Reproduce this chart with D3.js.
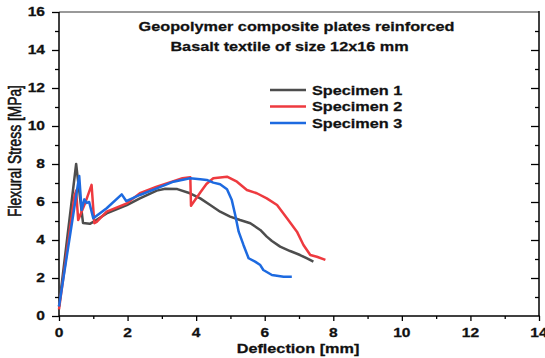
<!DOCTYPE html>
<html><head><meta charset="utf-8">
<script src="https://cdn.jsdelivr.net/npm/d3@7"></script>
<style>
html,body{margin:0;padding:0;background:#fff;}
svg{display:block;font-family:"Liberation Sans",Arial,sans-serif;}
</style></head>
<body><svg id="c" width="545" height="358"></svg>
<script>
// ---- data ----
const titleLines = ["Geopolymer composite plates reinforced", "Basalt textile of size 12x16 mm"];
const seriesNames = ["Specimen 1", "Specimen 2", "Specimen 3"];
const seriesColors = ["#4d4d4d", "#ee3a3f", "#1d6ae0"];
const xTicks = [0, 2, 4, 6, 8, 10, 12, 14];
const yTicks = [0, 2, 4, 6, 8, 10, 12, 14, 16];
const xLabel = "Deflection [mm]";
const yLabel = "Flexural Stress [MPa]";

const s1x = [0, 0.5, 0.55, 0.7, 0.9, 1.0, 1.39, 1.98, 2.36, 2.85, 3.1, 3.45, 3.82, 4.12, 4.41, 4.7, 4.99, 5.28, 5.58, 5.87, 6.06, 6.21, 6.45, 6.74, 7.03, 7.22, 7.42];
const s1y = [0.5, 8.0, 7.2, 4.9, 4.85, 4.95, 5.4, 5.84, 6.19, 6.6, 6.7, 6.68, 6.46, 6.19, 5.84, 5.49, 5.23, 5.05, 4.88, 4.53, 4.18, 3.95, 3.65, 3.42, 3.21, 3.04, 2.86];

const s2x = [0, 0.45, 0.5, 0.56, 0.76, 0.95, 1.03, 1.1, 1.39, 1.98, 2.36, 2.85, 3.34, 3.6, 3.83, 3.85, 4.12, 4.3, 4.5, 4.9, 5.19, 5.48, 5.77, 6.06, 6.36, 6.65, 6.94, 7.13, 7.33, 7.52, 7.77];
const s2y = [0.35, 6.3, 6.6, 5.05, 5.93, 6.9, 4.88, 4.95, 5.49, 5.93, 6.46, 6.81, 7.1, 7.25, 7.3, 5.8, 6.5, 6.95, 7.25, 7.33, 7.07, 6.63, 6.46, 6.19, 5.84, 5.14, 4.44, 3.74, 3.21, 3.12, 2.95];

const s3x = [0, 0.59, 0.66, 0.74, 0.81, 0.88, 1.0, 1.39, 1.83, 1.96, 2.36, 2.85, 3.34, 3.82, 4.12, 4.31, 4.5, 4.7, 4.9, 5.04, 5.14, 5.24, 5.38, 5.53, 5.72, 5.87, 5.96, 6.21, 6.55, 6.79];
const s3y = [0.5, 7.37, 5.58, 6.14, 5.95, 6.0, 5.14, 5.67, 6.4, 6.05, 6.37, 6.72, 7.07, 7.25, 7.2, 7.16, 7.02, 6.93, 6.67, 6.1, 5.32, 4.44, 3.74, 3.04, 2.86, 2.68, 2.42, 2.16, 2.07, 2.07];

const seriesX = [s1x, s2x, s3x];
const seriesY = [s1y, s2y, s3y];

// ---- layout ----
const L = 59, R = 539, T = 12, B = 316;
const SX = 1.3; // horizontal stretch of the original picture's text
const svg = d3.select("#c");
const x = d3.scaleLinear().domain([0, 14]).range([L, R]);
const y = d3.scaleLinear().domain([0, 16]).range([B, T]);

// frame top (gray)
svg.append("line").attr("x1", L).attr("x2", R).attr("y1", T).attr("y2", T)
  .attr("stroke", "#777").attr("stroke-width", 1.5);

function ticks(g, axis) {
  g.call(axis);
  g.selectAll(".domain").remove();
  g.selectAll(".tick line").attr("stroke-width", 1.3);
}
const yMinor = d3.range(1, 16, 2);
const xMinor = d3.range(1, 14, 2);

// left axis (outward)
ticks(svg.append("g").attr("transform", `translate(${L},0)`), d3.axisLeft(y).tickValues(yMinor).tickSize(4).tickFormat(""));
ticks(svg.append("g").attr("transform", `translate(${L},0)`), d3.axisLeft(y).tickValues(yTicks).tickSize(7).tickFormat(""));
// right axis (inward)
ticks(svg.append("g").attr("transform", `translate(${R},0)`), d3.axisLeft(y).tickValues(yMinor).tickSize(4).tickFormat(""));
ticks(svg.append("g").attr("transform", `translate(${R},0)`), d3.axisLeft(y).tickValues(yTicks.filter(v => v > 0 && v < 16)).tickSize(8).tickFormat(""));
// bottom axis (outward)
ticks(svg.append("g").attr("transform", `translate(0,${B})`), d3.axisBottom(x).tickValues(xMinor).tickSize(3).tickFormat(""));
ticks(svg.append("g").attr("transform", `translate(0,${B})`), d3.axisBottom(x).tickValues(xTicks).tickSize(5).tickFormat(""));

// frame lines
svg.append("line").attr("x1", L).attr("x2", L).attr("y1", T).attr("y2", B).attr("stroke", "#000").attr("stroke-width", 1.5);
svg.append("line").attr("x1", R).attr("x2", R).attr("y1", T - 1).attr("y2", B).attr("stroke", "#000").attr("stroke-width", 1.5);
svg.append("line").attr("x1", L).attr("x2", R + 0.75).attr("y1", B).attr("y2", B).attr("stroke", "#000").attr("stroke-width", 1.5);

function stretchedText(parent, tx, ty, str, opts) {
  return parent.append("text")
    .attr("transform", `translate(${tx},${ty}) scale(${SX},1)` + (opts.rotate ? ` rotate(${opts.rotate})` : ""))
    .attr("text-anchor", opts.anchor || "start")
    .attr("font-size", opts.size)
    .attr("font-weight", opts.weight || "bold")
    .attr("fill", "#111")
    .attr("stroke", "#111")
    .attr("stroke-width", opts.sw == null ? 0.25 : opts.sw)
    .text(str);
}

// tick labels
yTicks.forEach(v => stretchedText(svg, 45, y(v) + 4.3, String(v), {anchor: "end", size: 12}));
xTicks.forEach(v => stretchedText(svg, x(v), 337, String(v), {anchor: "middle", size: 12}));

// axis titles
stretchedText(svg, 298, 352.5, xLabel, {anchor: "middle", size: 12.5});
stretchedText(svg, 20.5, 151, yLabel, {anchor: "middle", size: 13.8, weight: "normal", rotate: -90, sw: 0.45});

// title
stretchedText(svg, 296.5, 31, titleLines[0], {anchor: "middle", size: 12.5});
stretchedText(svg, 289.5, 51, titleLines[1], {anchor: "middle", size: 12.5});

// series
const line = d3.line().x(d => x(d[0])).y(d => y(d[1]));
seriesNames.forEach((name, i) => {
  const pts = seriesX[i].map((v, j) => [v, seriesY[i][j]]);
  svg.append("path").datum(pts).attr("d", line)
    .attr("fill", "none").attr("stroke", seriesColors[i])
    .attr("stroke-width", 2.5).attr("stroke-linejoin", "round");
});

// legend
seriesNames.forEach((name, i) => {
  const by = 94.5 + i * 16.5;
  svg.append("line").attr("x1", 270).attr("x2", 306).attr("y1", by - 4.5).attr("y2", by - 4.5)
    .attr("stroke", seriesColors[i]).attr("stroke-width", 2.5);
  stretchedText(svg, 312, by, name, {size: 12.5});
});
</script></body></html>
